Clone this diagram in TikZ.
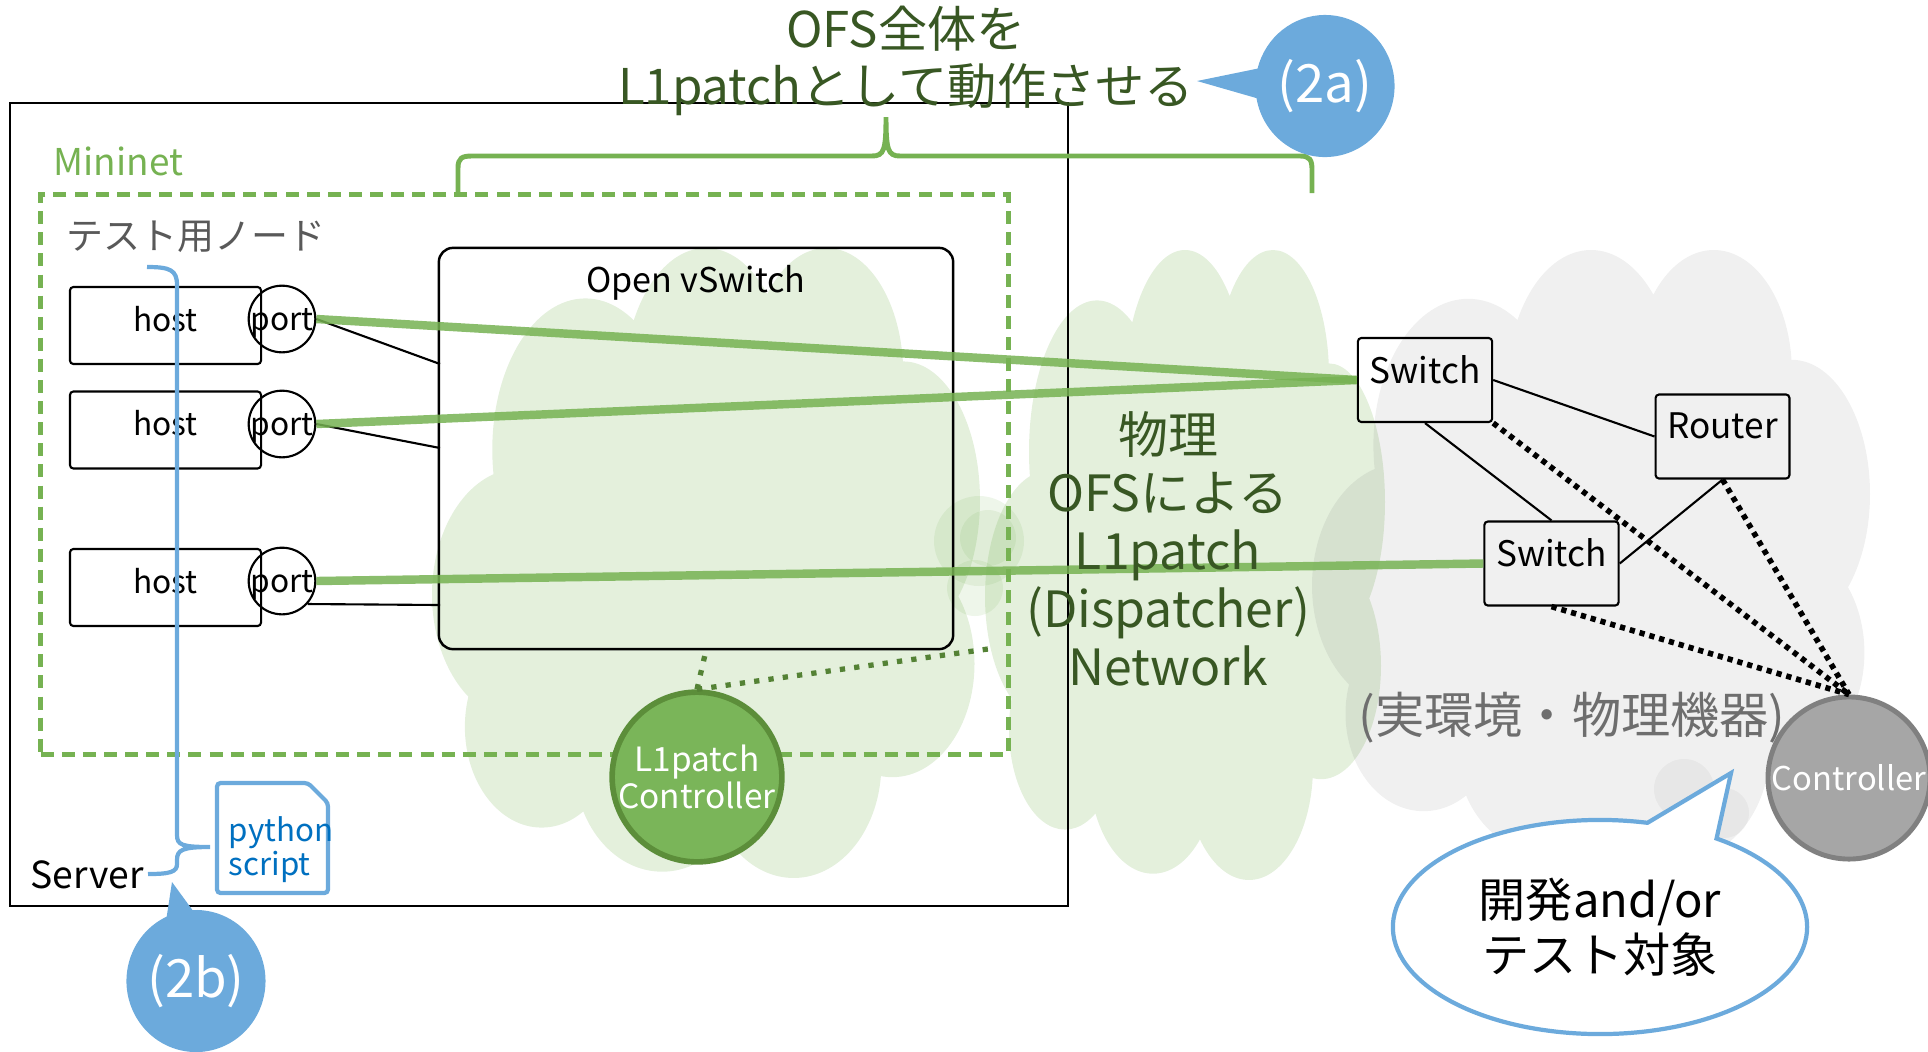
\documentclass[tikz,border=0pt]{standalone}
\usepackage{fontspec}
\setmainfont{Noto Sans CJK JP}
\usetikzlibrary{positioning,shapes.callouts}

\definecolor{ofsgreen}{RGB}{118,178,82}
\definecolor{textgreen}{RGB}{56,87,35}
\definecolor{dotgreen}{RGB}{84,130,53}
\definecolor{bubbleblue}{RGB}{108,170,220}
\definecolor{pyblue}{RGB}{0,112,192}
\definecolor{ctlgray}{RGB}{166,166,166}
\definecolor{ctlborder}{RGB}{128,128,128}
\definecolor{l1fill}{RGB}{122,181,89}
\definecolor{l1border}{RGB}{92,142,58}
\definecolor{nodegray}{RGB}{89,89,89}
\definecolor{realgray}{RGB}{110,110,110}

\newcommand{\fsz}[2]{\fontsize{#1}{#2}\selectfont}
\newcommand{\puffs}{(.16,.55) ellipse (.16 and .20) (.28,.32) ellipse (.17 and .24)
  (.50,.22) ellipse (.15 and .22) (.72,.20) ellipse (.14 and .20) (.86,.40) ellipse (.14 and .22)
  (.84,.66) ellipse (.15 and .18) (.66,.82) ellipse (.16 and .18) (.42,.82) ellipse (.16 and .17)
  (.20,.76) ellipse (.14 and .16) (.52,.52) ellipse (.34 and .32)}

\tikzset{
  lbl/.style={inner sep=0pt},
  hostbox/.style={draw, line width=0.6pt, rounded corners=1pt, minimum width=1.91cm, minimum height=0.77cm, font=\fsz{9}{10}, text depth=4pt},
  portc/.style={draw, circle, line width=0.6pt, minimum size=0.64cm, inner sep=0pt, font=\fsz{9}{10}, text depth=0pt},
  netbox/.style={draw, line width=0.6pt, rounded corners=1pt, minimum width=1.29cm, minimum height=0.84cm, font=\fsz{10}{11}, text depth=6pt},
  wire/.style={line width=0.6pt},
  link/.style={ofsgreen, line width=2.4pt, opacity=0.85},
  ctldot/.style={line width=1.6pt, dash pattern=on 1.5pt off 1.4pt},
  gdot/.style={dotgreen, line width=1.5pt, dash pattern=on 1.5pt off 2.6pt},
  callnum/.style={ellipse callout, fill=bubbleblue, minimum width=1.39cm, minimum height=1.42cm, inner sep=0pt, callout pointer arc=24, text=white, font=\fsz{15}{17}}
}

\begin{document}
\begin{tikzpicture}[x=0.01cm, y=-0.01cm]
\useasboundingbox (0,0) rectangle (1928,1051);

\begin{scope}[shift={(432,248)}, xscale=548, yscale=630]
  \fill[ofsgreen, fill opacity=.2] \puffs;
\end{scope}
\begin{scope}[shift={(985,250)}, xscale=400, yscale=630]
  \fill[ofsgreen, fill opacity=.2] \puffs;
\end{scope}
\begin{scope}[shift={(1312,250)}, xscale=558, yscale=610]
  \fill[black, fill opacity=.06] \puffs;
\end{scope}
\fill[ofsgreen, fill opacity=.12] (979,541) circle (45);
\fill[ofsgreen, fill opacity=.12] (988,538) circle (28);
\fill[ofsgreen, fill opacity=.12] (975,588) circle (28);
\fill[black, fill opacity=.04] (1684,789) circle (30);
\fill[black, fill opacity=.04] (1724,813) circle (25);

\node[draw, line width=0.6pt, minimum width=10.58cm, minimum height=8.03cm, inner sep=0pt] (server) at (539,504.5) {};
\node[draw=ofsgreen, line width=1.4pt, dash pattern=on 3.7pt off 2.3pt, minimum width=9.67cm, minimum height=5.59cm] (mininet) at (524.5,474.5) {};
\node[draw, line width=0.7pt, rounded corners=4pt, minimum width=5.14cm, minimum height=4.01cm] (ovs) at (696,448.5) {};

\node[lbl, anchor=west, text=ofsgreen, font=\fsz{10.5}{12}] (mnlabel) at (53,161) {Mininet};
\node[lbl, anchor=west, text=nodegray, font=\fsz{10.5}{12}] (testlabel) at (66,237) {テスト用ノード};
\node[lbl, font=\fsz{9.7}{11}] (ovslabel) at (696,283) {Open vSwitch};
\node[lbl, anchor=west, font=\fsz{10.6}{12}] (srvlabel) at (30,875) {Server};
\node[lbl, align=center, text=textgreen, font=\fsz{14}{16}] (title) at (906,61) {OFS全体を\\L1patchとして動作させる};

\node[hostbox] (h1) at (165.5,325.5) {host};
\node[hostbox] (h2) at (165.5,430) {host};
\node[hostbox] (h3) at (165.5,587.5) {host};
\node[portc] (p1) at (282,319) {port};
\node[portc] (p2) at (282,424) {port};
\node[portc] (p3) at (282,581) {port};

\coordinate (o1) at (440,364);
\coordinate (o2) at (440,448);
\coordinate (o3) at (440,605);
\draw[wire] (p1.east) -- (o1);
\draw[wire] (p2.east) -- (o2);
\draw[wire] (p3.-42) -- (o3);

\node[netbox] (sw1) at (1425,380) {Switch};
\node[netbox] (rt) at (1722.5,436.5) {Router};
\node[netbox] (sw2) at (1551.5,563.5) {Switch};
\draw[wire] (sw1.east) -- (rt.west);
\draw[wire] (sw1.south) -- (sw2.north);
\draw[wire] (sw2.east) -- (rt.south);

\node[circle, fill=ctlgray, draw=ctlborder, line width=1.4pt, minimum size=1.62cm, inner sep=0pt, text=white, font=\fsz{9.3}{10}] (ctl) at (1849,778) {Controller};
\draw[ctldot] (sw1.south east) -- (ctl.north);
\draw[ctldot] (rt.south) -- (ctl.north);
\draw[ctldot] (sw2.south) -- (ctl.north);

\node[circle, fill=l1fill, draw=l1border, line width=1.6pt, minimum size=1.66cm, inner sep=0pt, align=center, text=white, font=\fsz{9.5}{10.5}] (l1c) at (697,777) {L1patch\\Controller};
\coordinate (ofsnet) at (988,649);
\draw[gdot] (l1c.north) -- ([xshift=0.1cm]ovs.south);
\draw[gdot] (l1c.north) -- (ofsnet);

\draw[link] (p1.east) -- (sw1.west);
\draw[link] (p2.east) -- (sw1.west);
\draw[link] (p3.east) -- (sw2.west);

\node[lbl, align=center, text=textgreen, font=\fsz{14.2}{16.5}] (dispnet) at (1168,549) {物理\\OFSによる\\L1patch\\(Dispatcher)\\Network};
\node[lbl, text=realgray, font=\fsz{14}{16}] (realenv) at (1572,718) {(実環境・物理機器)};

\draw[ofsgreen, line width=1.4pt] (458,195) -- (458,168) .. controls (458,158) and (462,156) .. (472,156) -- (872,156)
  .. controls (884,156) and (886,150) .. (886,117) .. controls (886,150) and (888,156) .. (900,156) -- (1300,156)
  .. controls (1310,156) and (1312,160) .. (1312,170) -- (1312,193);
\draw[bubbleblue, line width=1.2pt] (147,267) .. controls (170,267) and (177,270) .. (177,285) -- (177,835)
  .. controls (177,845) and (182,847) .. (210,847) .. controls (182,847) and (177,850) .. (177,860) -- (177,864)
  .. controls (177,872) and (170,874) .. (148,874);

\filldraw[fill=white, draw=bubbleblue, line width=1.2pt, rounded corners=1pt] (217,783) -- (308,783) -- (328,803) -- (328,893) -- (217,893) -- cycle;
\node[lbl, anchor=west, align=left, text=pyblue, font=\fsz{8.9}{9.7}] (pylabel) at (228,850) {python\\script};

\node[callnum, callout absolute pointer={(1197,81)}] (c2a) at (1325,86) {(2a)};
\node[callnum, callout absolute pointer={(172,882)}, callout pointer arc=22] (c2b) at (196,981) {(2b)};
\node[ellipse callout, draw=bubbleblue, line width=1.2pt, fill=white, minimum width=4.14cm, minimum height=2.14cm, callout absolute pointer={(1731,773)}, callout pointer arc=21, align=center, font=\fsz{13.4}{15.6}] (devnote) at (1600,927) {開発and/or\\テスト対象};
\end{tikzpicture}
\end{document}
